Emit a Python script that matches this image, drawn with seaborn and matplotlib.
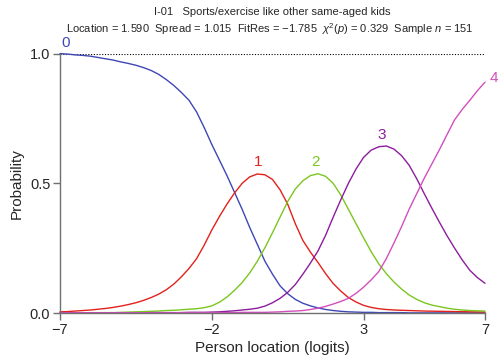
import numpy as np
import pandas as pd
import seaborn as sns
import matplotlib
matplotlib.use("Agg")
import matplotlib.pyplot as plt

# category probability curves, every 0.25 logit
x = np.linspace(-7, 7, 57)

p0 = [1.00, 0.998, 0.995, 0.993, 0.99, 0.985, 0.98, 0.975,
      0.968, 0.962, 0.955, 0.946, 0.935, 0.92, 0.90, 0.877,
      0.85, 0.82, 0.775, 0.715, 0.65, 0.59, 0.53, 0.465,
      0.40, 0.33, 0.265, 0.20, 0.15, 0.105, 0.075, 0.053,
      0.038, 0.028, 0.02, 0.014, 0.01, 0.007, 0.005, 0.004,
      0.003, 0.003, 0.002, 0.002, 0.002, 0.002, 0.001, 0.001,
      0.001, 0.001, 0.001, 0.001, 0.001, 0.001, 0.001, 0.001,
      0.001]
p1 = [0.005, 0.006, 0.008, 0.01, 0.012, 0.015, 0.018, 0.022,
      0.027, 0.033, 0.04, 0.049, 0.06, 0.073, 0.09, 0.112,
      0.14, 0.172, 0.21, 0.262, 0.32, 0.372, 0.42, 0.463,
      0.50, 0.525, 0.536, 0.533, 0.515, 0.475, 0.42, 0.345,
      0.28, 0.235, 0.195, 0.152, 0.114, 0.085, 0.06, 0.043,
      0.03, 0.022, 0.017, 0.014, 0.012, 0.011, 0.01, 0.009,
      0.008, 0.0075, 0.007, 0.0065, 0.006, 0.0055, 0.005, 0.0045,
      0.004]
p2 = [0.001, 0.001, 0.001, 0.001, 0.002, 0.002, 0.002, 0.002,
      0.003, 0.004, 0.005, 0.006, 0.007, 0.008, 0.01, 0.011,
      0.013, 0.015, 0.017, 0.021, 0.028, 0.042, 0.062, 0.088,
      0.118, 0.155, 0.20, 0.252, 0.31, 0.37, 0.43, 0.478,
      0.51, 0.53, 0.537, 0.527, 0.50, 0.455, 0.40, 0.345,
      0.29, 0.237, 0.19, 0.152, 0.12, 0.093, 0.07, 0.053,
      0.04, 0.031, 0.025, 0.019, 0.015, 0.012, 0.01, 0.009,
      0.008]
p3 = [0.001, 0.001, 0.001, 0.001, 0.001, 0.001, 0.001, 0.001,
      0.001, 0.001, 0.001, 0.001, 0.002, 0.002, 0.002, 0.002,
      0.002, 0.003, 0.003, 0.003, 0.004, 0.005, 0.007, 0.009,
      0.012, 0.015, 0.019, 0.027, 0.04, 0.057, 0.08, 0.11,
      0.15, 0.193, 0.24, 0.30, 0.37, 0.437, 0.50, 0.555,
      0.60, 0.628, 0.641, 0.644, 0.632, 0.607, 0.57, 0.518,
      0.46, 0.404, 0.35, 0.298, 0.25, 0.205, 0.165, 0.137,
      0.115]
p4 = [0.001, 0.001, 0.001, 0.001, 0.001, 0.001, 0.001, 0.001,
      0.001, 0.001, 0.001, 0.001, 0.001, 0.001, 0.001, 0.001,
      0.002, 0.002, 0.002, 0.002, 0.002, 0.002, 0.002, 0.002,
      0.003, 0.003, 0.003, 0.003, 0.004, 0.005, 0.007, 0.008,
      0.01, 0.014, 0.019, 0.026, 0.035, 0.045, 0.057, 0.076,
      0.10, 0.128, 0.16, 0.21, 0.27, 0.333, 0.40, 0.46,
      0.52, 0.575, 0.63, 0.688, 0.745, 0.785, 0.82, 0.857,
      0.89]

cats = ["0", "1", "2", "3", "4"]
colors = ["#3f47b5", "#e3211b", "#7bc61f", "#8c1d9d", "#d34fbe"]
label_pos = [(-6.8, 1.012), (-0.47, 0.555), (1.4, 0.555), (3.6, 0.66), (7.3, 0.88)]

df = pd.DataFrame({
    "x": np.tile(x, 5),
    "p": np.concatenate([p0, p1, p2, p3, p4]),
    "cat": np.repeat(cats, len(x)),
})

sns.set_style("white")
plt.rcParams["font.family"] = ["Liberation Sans", "DejaVu Sans"]
plt.rcParams["mathtext.fontset"] = "custom"
plt.rcParams["mathtext.rm"] = "Liberation Sans"
plt.rcParams["mathtext.it"] = "Liberation Sans:italic"

fig = plt.figure(figsize=(5, 3.62), dpi=100)
ax = fig.add_axes([0.12, 0.135, 0.85, 0.717])

ax.axhline(1.0, color="black", lw=0.8, ls=(0, (1, 1.5)))

sns.lineplot(data=df, x="x", y="p", hue="cat", palette=colors, lw=1.0,
             legend=False, ax=ax, clip_on=False)

for c, col, (lx, ly) in zip(cats, colors, label_pos):
    ax.text(lx, ly, c, color=col, fontsize=11, ha="center", va="bottom")

ax.set_xlim(-7, 7)
ax.set_ylim(0, 1)
ax.set_xticks([-7, -2, 3, 7])
ax.set_xticklabels(["\u22127", "\u22122", "3", "7"])
ax.set_yticks([0, 0.5, 1.0])
ax.set_yticklabels(["0.0", "0.5", "1.0"])
ax.tick_params(axis="both", direction="out", length=5, width=1, color="#707070",
               labelsize=10.5, pad=2, bottom=True, left=True)

for s in ["top", "right"]:
    ax.spines[s].set_visible(False)
for s in ["left", "bottom"]:
    ax.spines[s].set_color("#707070")
    ax.spines[s].set_linewidth(1)

ax.set_xlabel("Person location (logits)", fontsize=11, labelpad=3)
ax.set_ylabel("Probability", fontsize=11, labelpad=4)

fig.text(0.545, 0.967, "I-01   Sports/exercise like other same-aged kids",
         ha="center", va="center", fontsize=8)
fig.text(0.54, 0.92,
         r"Location = 1.590  Spread = 1.015  FitRes = $-$1.785  $\chi^2(p)$ = 0.329  Sample $n$ = 151",
         ha="center", va="center", fontsize=8)

fig.savefig("out.png", dpi=100)
